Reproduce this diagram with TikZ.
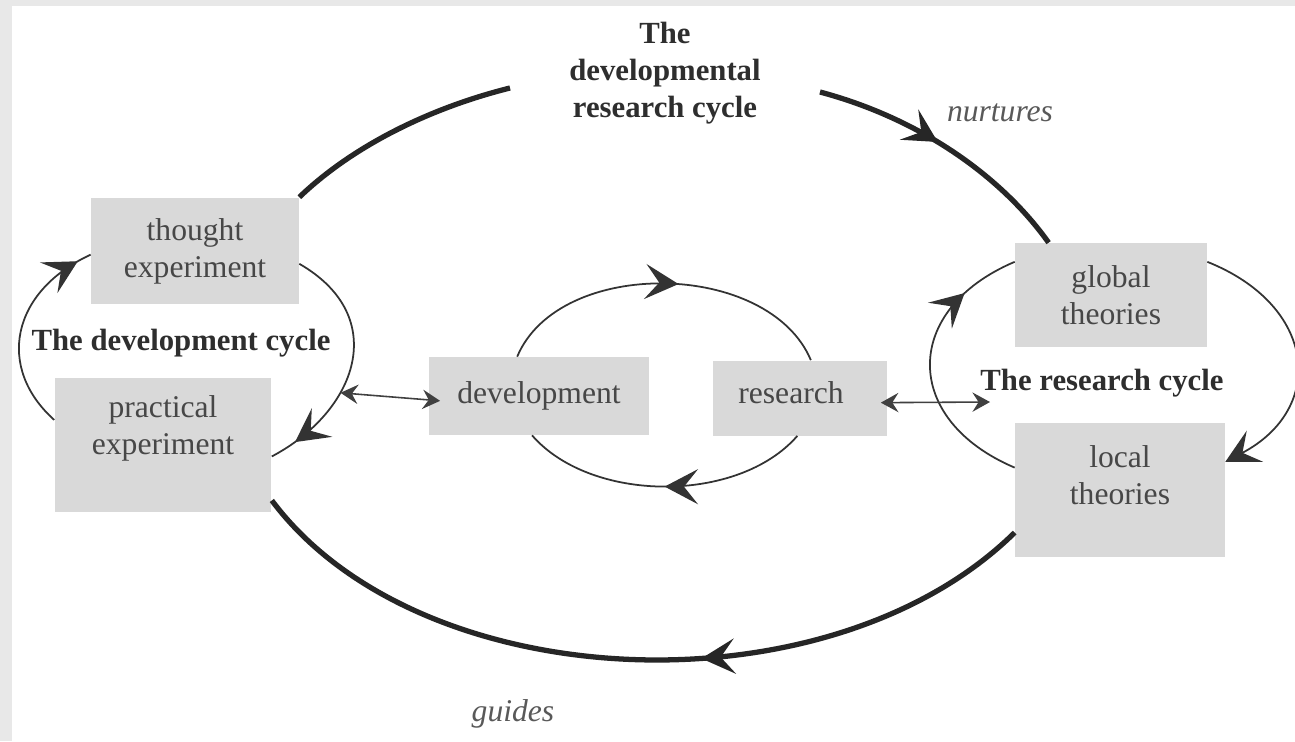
\documentclass[tikz,border=0pt]{standalone}
\usepackage{fontspec}
\setmainfont{Liberation Serif}
\usetikzlibrary{arrows.meta,decorations.markings}

\definecolor{boxfill}{HTML}{D9D9D9}
\definecolor{framegrey}{HTML}{E8E8E8}

\tikzset{
    barb/.tip={Stealth[length=19pt,width=20pt,inset=8pt]},
    minibarb/.tip={Stealth[length=10pt,width=11pt,inset=3.5pt]},
    box/.style={fill=boxfill,inner sep=0pt,align=center,text=black!72,font=\fontsize{18}{21}\selectfont},
    boxtext/.style={align=center,text=black!72,font=\fontsize{18}{21}\selectfont},
    cyclename/.style={align=center,text=black!82,font=\fontsize{17.5}{21}\selectfont\bfseries},
    verblabel/.style={text=black!65,font=\fontsize{18}{21}\selectfont\itshape},
    cyclearc/.style={line width=1pt,color=black!80},
    bigarc/.style={line width=3pt,color=black!85},
    link/.style={line width=0.9pt,color=black!75,minibarb-minibarb},
    midtip/.style={postaction={decorate},decoration={markings,mark=at position #1 with {\arrow{barb}}}},
}

\begin{document}
\begin{tikzpicture}[x=0.02cm,y=-0.02cm]
    \useasboundingbox (0,0) rectangle (1295,741);
    \fill[framegrey] (0,0) rectangle (1295,741);
    \fill[white] (12,6) rectangle (1295,741);

    \node[box,minimum width=4.16cm,minimum height=2.14cm] (thought) at (195,251) {thought\\experiment};
    \node[box,minimum width=4.34cm,minimum height=2.68cm,label={[boxtext,yshift=0.34cm]center:{practical\\experiment}}] (practical) at (163,445) {};
    \node[box,minimum width=4.42cm,minimum height=1.56cm] (development) at (539,396) {development};
    \node[box,minimum width=3.5cm,minimum height=1.5cm,label={[boxtext,xshift=-0.18cm,yshift=0.1cm]center:research}] (research) at (800,398) {};
    \node[box,minimum width=3.84cm,minimum height=2.08cm] (global) at (1111,295) {global\\theories};
    \node[box,minimum width=4.2cm,minimum height=2.68cm,label={[boxtext,yshift=0.3cm]center:{local\\theories}}] (local) at (1120,490) {};

    \node[cyclename] (title) at (665,73) {The\\developmental\\research cycle};
    \node[cyclename] (devname) at (181,343) {The development cycle};
    \node[cyclename] (resname) at (1102,383) {The research cycle};
    \node[verblabel] (nurtures) at (1000,113) {nurtures};
    \node[verblabel] (guides) at (513,714) {guides};

    \coordinate (gapL) at (510,88);
    \coordinate (gapR) at (820,92);
    \coordinate (reslink) at (990,402);

    \draw[bigarc] (thought.north east) .. controls +(51,-49) and +(-84,21) .. (gapL);
    \draw[bigarc,midtip=0.46] (gapR) .. controls +(101,27) and +(-47,-66) .. (global.140);
    \draw[bigarc,midtip=0.42] (local.202) .. controls +(-186,183) and +(148,198) .. (practical.-27);

    \draw[cyclearc,midtip=0.93] (practical.167) .. controls +(-58,-52) and +(-80,37) .. (thought.182);
    \draw[cyclearc,midtip=0.89] (thought.-7) .. controls +(92,53) and +(85,-45) .. coordinate[pos=0.64] (devlink) (practical.-6);

    \draw[cyclearc,midtip=0.54] (development.119) .. controls +(42,-100) and +(-42,-100) .. (research.74);
    \draw[cyclearc,midtip=0.5] (research.266) .. controls +(-59,68) and +(59,68) .. (development.260);

    \draw[cyclearc,midtip=0.79] (local.168) .. controls +(-113,-48) and +(-113,48) .. (global.161);
    \draw[cyclearc,-barb] (global.19) .. controls +(110,44) and +(101,-53) .. (local.15);

    \draw[link,shorten >=-0.24cm] (devlink) -- (development.182);
    \draw[link,shorten <=-0.14cm] (research.-3) -- (reslink);
\end{tikzpicture}
\end{document}
